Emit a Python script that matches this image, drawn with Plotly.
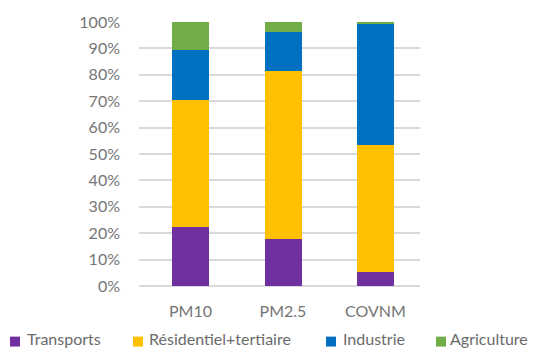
import plotly.graph_objects as go

categories = ["PM10", "PM2.5", "COVNM"]
transports = [22.5, 17.8, 5.2]
residentiel = [47.8, 63.8, 48.2]
industrie = [19.0, 14.8, 46.1]
agriculture = [10.7, 3.6, 0.5]
series_names = ["Transports", "Résidentiel+tertiaire", "Industrie", "Agriculture"]
series_colors = ["#7030A0", "#FFC000", "#0070C0", "#70AD47"]
yticks = [0, 10, 20, 30, 40, 50, 60, 70, 80, 90, 100]

W, H = 533, 349
ML, MR, MT, MB = 139, 113, 20, 63
PW, PH = W - ML - MR, H - MT - MB

def px_x(px):
    return (px - ML) / PW

def px_y(py):
    return (H - MB - py) / PH

fig = go.Figure()
for name, vals, col in zip(series_names, [transports, residentiel, industrie, agriculture], series_colors):
    fig.add_trace(go.Bar(x=categories, y=vals, name=name, marker_color=col,
                         marker_line_width=0))

# manual legend (single row along the bottom)
legend_square_left = [10, 133, 326, 436]
legend_text_left = [25, 147, 341, 448]
for name, col, sx, tx in zip(series_names, series_colors, legend_square_left, legend_text_left):
    fig.add_shape(type="rect", xref="paper", yref="paper",
                  x0=px_x(sx), x1=px_x(sx + 10), y0=px_y(347), y1=px_y(337),
                  fillcolor=col, line_width=0)
    fig.add_annotation(text=name, xref="paper", yref="paper", x=px_x(tx), y=px_y(338.5),
                       xanchor="left", yanchor="middle", showarrow=False,
                       font=dict(size=16, color="#6b6b6b"))

fig.update_layout(
    barmode="stack",
    bargap=0.6,
    width=W, height=H,
    margin=dict(l=ML, r=MR, t=MT, b=MB),
    plot_bgcolor="white", paper_bgcolor="white",
    font=dict(family="Lato", size=16, color="#757575"),
    xaxis=dict(showline=False, ticks="", ticklabelstandoff=14, range=[-0.557, 2.481]),
    yaxis=dict(range=[0, 100], tickvals=yticks, ticktext=[f"{v}%" for v in yticks],
               showgrid=True, gridcolor="#D9D9D9", gridwidth=1.5, zeroline=True,
               zerolinecolor="#D9D9D9", zerolinewidth=1.5, ticklabelstandoff=18),
    showlegend=False,
)
fig.write_html("out.html")
